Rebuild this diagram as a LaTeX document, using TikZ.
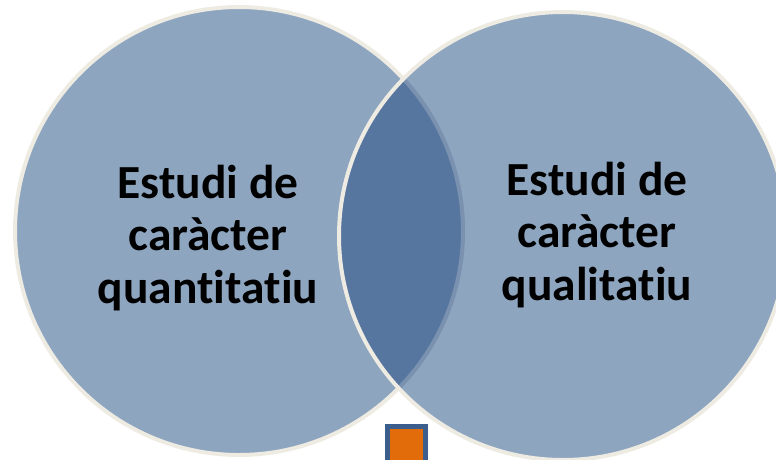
\documentclass[tikz,border=0pt]{standalone}
\usepackage{fontspec}
\setmainfont[Ligatures={NoCommon}]{Carlito}
\definecolor{circfill}{HTML}{8EA5C0}
\definecolor{lensfill}{HTML}{56769F}
\definecolor{rimcol}{HTML}{EEECE2}
\definecolor{lensedge}{HTML}{7A91AF}
\definecolor{sqblue}{HTML}{3B5E8C}
\definecolor{sqorange}{HTML}{E36C0A}
\begin{document}
\begin{tikzpicture}[x=1pt,y=-1pt,
  rim/.style={draw=rimcol,line width=4pt},
  lbl/.style={align=center,font=\bfseries\fontsize{47.5}{52.5}\selectfont,text=black,inner sep=0pt}]
\useasboundingbox (0,0) rectangle (776,459);
\clip (0,0) rectangle (776,459);
\coordinate (L) at (239,231);
\coordinate (R) at (563,236);
\fill[circfill] (L) circle (224);
\draw[rim] (L) circle (224);
\fill[circfill] (R) circle (224);
\begin{scope}
  \clip (L) circle (224);
  \fill[lensfill] (R) circle (224);
\end{scope}
\begin{scope}
  \clip (R) circle (224);
  \draw[lensedge,line width=4pt] (L) circle (224);
\end{scope}
\draw[rim] (R) circle (224);
\node[lbl] (lt) at (208,238) {Estudi de\\caràcter\\quantitatiu};
\node[lbl] (rt) at (597,235) {Estudi de\\caràcter\\qualitatiu};
\draw[draw=sqblue,fill=sqorange,line width=5pt] (387.5,426.5) rectangle (425.5,470);
\end{tikzpicture}
\end{document}
